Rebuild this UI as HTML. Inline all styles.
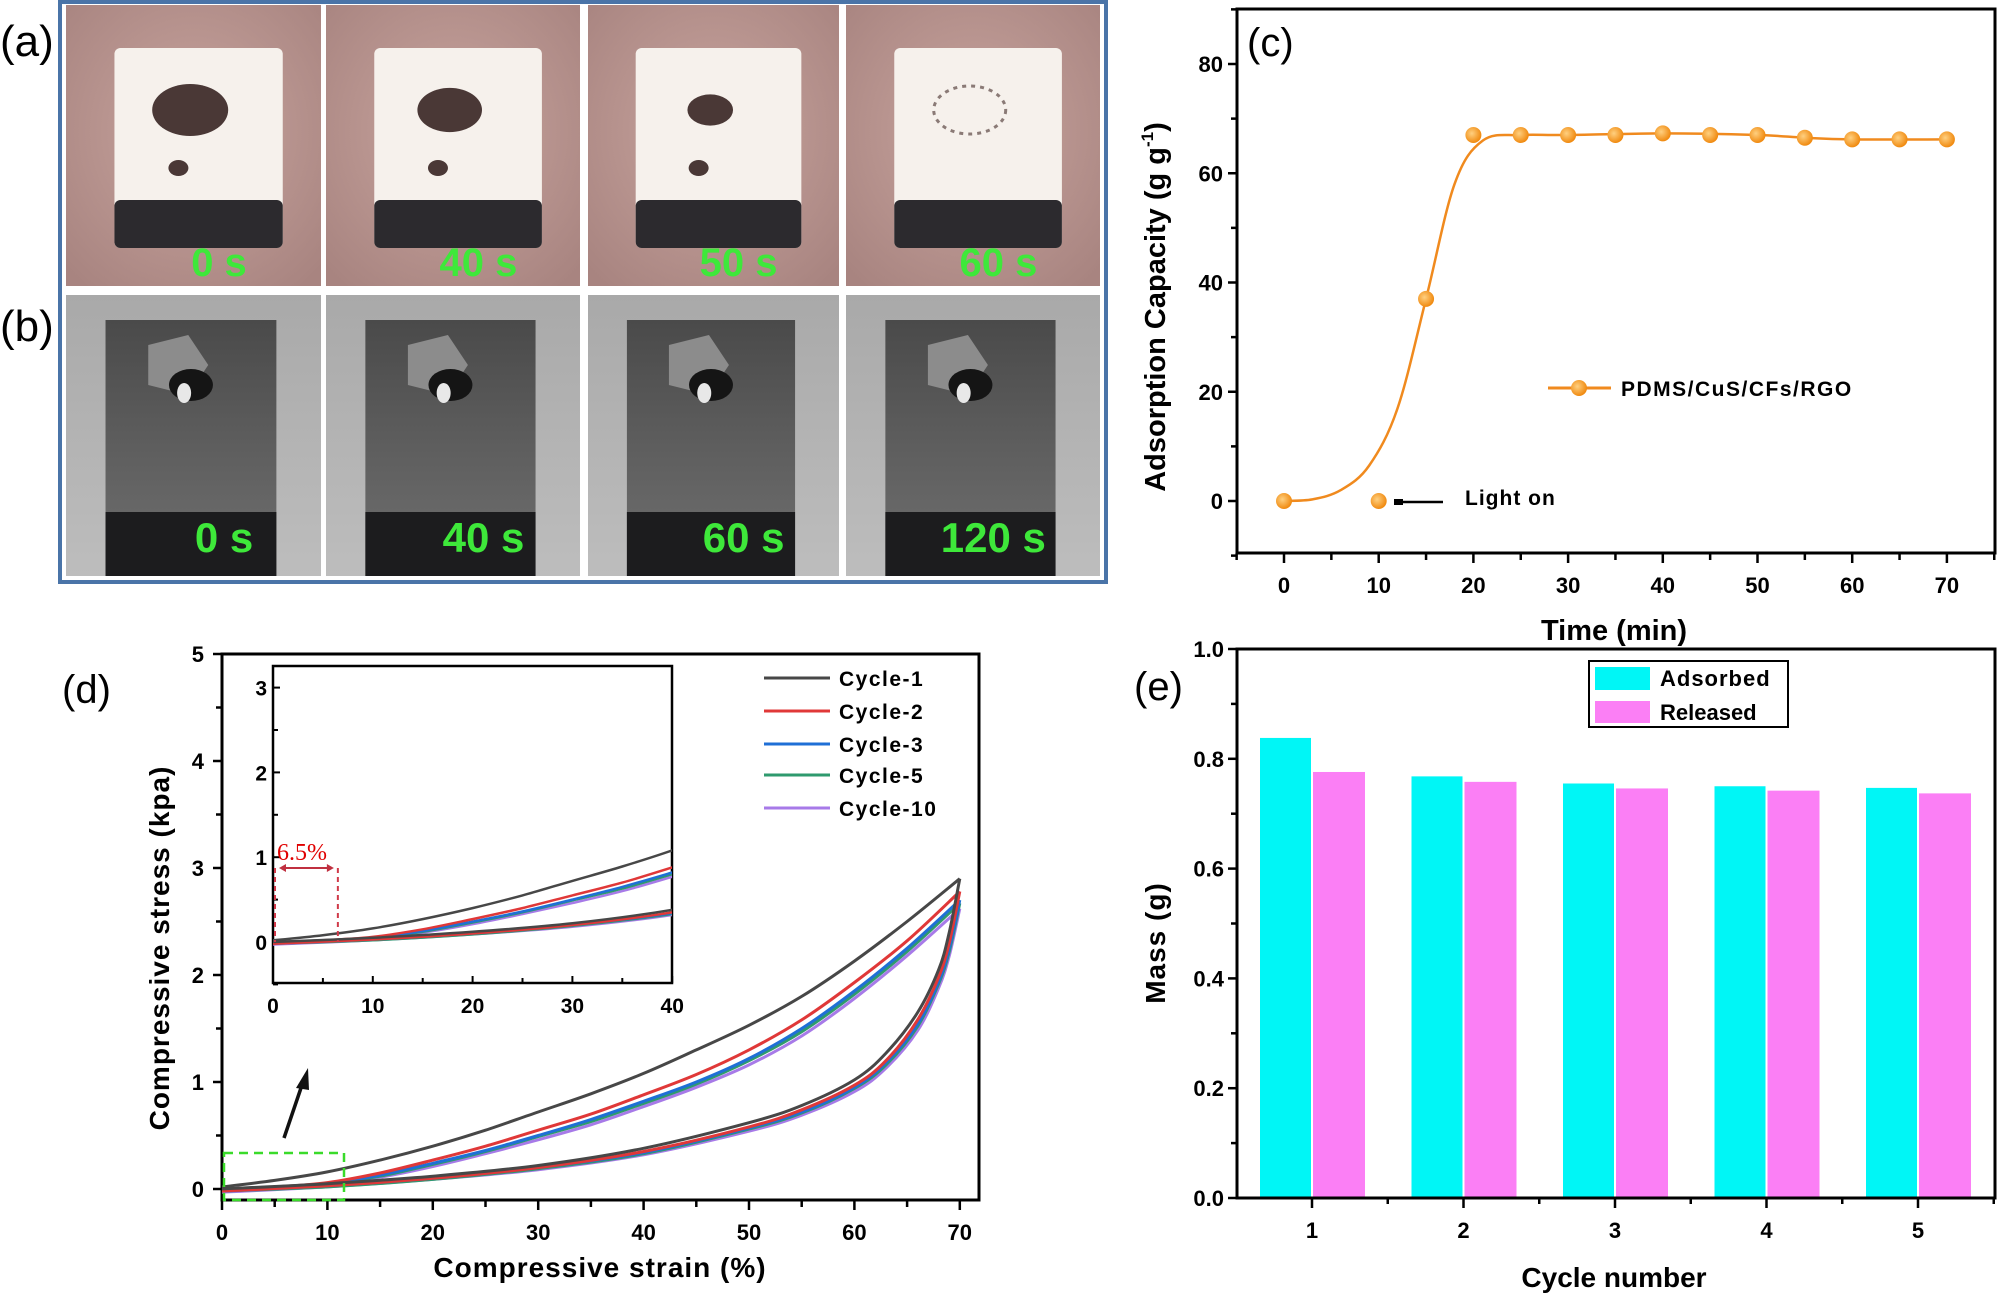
<!DOCTYPE html>
<html><head><meta charset="utf-8"><style>
html,body{margin:0;padding:0;background:#fff;}
svg{display:block;font-family:"Liberation Sans",Arial,sans-serif;font-weight:bold;}
</style></head><body>
<svg id="fig" width="2000" height="1296" viewBox="0 0 2000 1296" xmlns="http://www.w3.org/2000/svg">
<defs>
<radialGradient id="pinkbg" cx="50%" cy="45%" r="70%"><stop offset="0" stop-color="#c8a49e"/><stop offset="1" stop-color="#a88480"/></radialGradient>
<linearGradient id="graybg" x1="0" y1="0" x2="0" y2="1"><stop offset="0" stop-color="#a9a9a9"/><stop offset="1" stop-color="#bdbdbd"/></linearGradient>
<linearGradient id="grayblk" x1="0" y1="0" x2="0" y2="1"><stop offset="0" stop-color="#4a4a4a"/><stop offset="0.5" stop-color="#5e5e5e"/><stop offset="1" stop-color="#707070"/></linearGradient>
<radialGradient id="ballg" cx="40%" cy="40%" r="60%"><stop offset="0" stop-color="#ffd080"/><stop offset="1" stop-color="#f08a10"/></radialGradient>
<clipPath id="clipD"><rect x="222" y="654" width="757" height="546"/></clipPath>
<clipPath id="clipIn"><rect x="273" y="666" width="399" height="317"/></clipPath>
</defs>

<!-- Panels a/b photos -->
<g>
<rect x="60" y="2" width="1046" height="580" fill="#fff" stroke="#4a74a8" stroke-width="4"/>
<text x="0" y="56" font-size="44" font-weight="normal">(a)</text>
<text x="0" y="341" font-size="44" font-weight="normal">(b)</text>
<g id="photos"></g>
</g>

<!-- Panel c -->
<g id="panelC"></g>
<!-- Panel d -->
<g id="panelD"></g>
<!-- Panel e -->
<g id="panelE"></g>
</svg>
<script>
// ---------- Panel c data ----------
const cTimes = [0,10,15,20,25,30,35,40,45,50,55,60,65,70];
const cValues = [0,0,37,67,67,67,67,67.3,67,67,66.5,66.2,66.2,66.2];
const cXTicks = [0,10,20,30,40,50,60,70];
const cYTicks = [0,20,40,60,80];
const cCurveT = [0,3,6,9,12,15,18,21,25,30,40,50,55,60,70];
const cCurveV = [0,0.3,2,6.5,17,37,58,66,67,67,67.3,67,66.5,66.2,66.2];

// ---------- Panel d data ----------
const dLoadStrain = [0,5,10,15,20,25,30,35,40,45,50,55,60,65,70];
const dCycleNames = ['Cycle-1','Cycle-2','Cycle-3','Cycle-5','Cycle-10'];
const dLoad1 = [0.02,0.08,0.16,0.27,0.4,0.55,0.72,0.89,1.08,1.3,1.53,1.8,2.13,2.5,2.9];
const dLoad2 = [0,0.02,0.06,0.15,0.27,0.4,0.55,0.7,0.88,1.07,1.3,1.58,1.93,2.32,2.78];
const dLoad3 = [0,0.02,0.05,0.13,0.24,0.36,0.5,0.65,0.82,1.0,1.22,1.5,1.85,2.25,2.7];
const dLoad5 = [0,0.01,0.05,0.12,0.23,0.35,0.49,0.63,0.8,0.98,1.2,1.47,1.82,2.22,2.67];
const dLoad10 = [0,0.01,0.04,0.11,0.21,0.33,0.46,0.6,0.77,0.95,1.16,1.43,1.78,2.18,2.62];
const dUnloadStrain = [0,10,20,30,40,50,55,60,63,66,68,69,70];
const dUnload1 = [0,0.05,0.12,0.22,0.38,0.62,0.78,1.02,1.27,1.65,2.05,2.4,2.9];
const dUnload2 = [-0.02,0.03,0.1,0.2,0.35,0.58,0.74,0.97,1.2,1.58,1.98,2.3,2.78];
const dUnload3 = [-0.02,0.03,0.1,0.2,0.34,0.57,0.72,0.95,1.18,1.54,1.94,2.25,2.7];
const dUnload5 = [-0.02,0.02,0.09,0.19,0.33,0.56,0.71,0.94,1.16,1.52,1.92,2.22,2.67];
const dUnload10 = [-0.03,0.02,0.09,0.18,0.32,0.54,0.69,0.91,1.13,1.48,1.88,2.18,2.62];
const dXTicks = [0,10,20,30,40,50,60,70];
const dYTicks = [0,1,2,3,4,5];
const dInXTicks = [0,10,20,30,40];
const dInYTicks = [0,1,2,3];

// ---------- Panel e data ----------
const eCats = ['1','2','3','4','5'];
const eAdsorbed = [0.838,0.768,0.755,0.75,0.747];
const eReleased = [0.776,0.758,0.746,0.742,0.737];
const eYTicks = [0.0,0.2,0.4,0.6,0.8,1.0];

const NS='http://www.w3.org/2000/svg';
function mk(tag, attrs, parent){const e=document.createElementNS(NS,tag);for(const k in attrs)e.setAttribute(k,attrs[k]);parent.appendChild(e);return e;}
function catmull(pts){let d='M'+pts[0][0].toFixed(1)+','+pts[0][1].toFixed(1);for(let i=0;i<pts.length-1;i++){const p0=pts[i-1]||pts[i],p1=pts[i],p2=pts[i+1],p3=pts[i+2]||p2;const c1=[p1[0]+(p2[0]-p0[0])/6,p1[1]+(p2[1]-p0[1])/6],c2=[p2[0]-(p3[0]-p1[0])/6,p2[1]-(p3[1]-p1[1])/6];d+=' C'+c1[0].toFixed(1)+','+c1[1].toFixed(1)+' '+c2[0].toFixed(1)+','+c2[1].toFixed(1)+' '+p2[0].toFixed(1)+','+p2[1].toFixed(1);}return d;}

// ---------- Photos ----------
(function(){
  const g=document.getElementById('photos');
  const cols=[[66,321],[326,580],[588,839],[846,1100]];
  const aLabels=['0 s','40 s','50 s','60 s'];
  const bLabels=['0 s','40 s','60 s','120 s'];
  const stain=[1,0.85,0.6,0.25];
  cols.forEach((c,i)=>{
    const w=c[1]-c[0];
    const bg=mk('rect',{x:c[0],y:5,width:w,height:281,fill:'url(#pinkbg)'},g);
    
    
    const bx=c[0]+w*0.19, bw=w*0.66;
    mk('rect',{x:bx,y:48,width:bw,height:200,fill:'#f6f1ec',rx:6},g);
    mk('rect',{x:bx,y:200,width:bw,height:48,fill:'#2c2a2e',rx:6},g);
    if(stain[i]>0.3){mk('ellipse',{cx:bx+bw*0.45,cy:110,rx:38*stain[i],ry:26*stain[i],fill:'#4a3836'},g);
    mk('ellipse',{cx:bx+bw*0.38,cy:168,rx:10,ry:8,fill:'#4a3836'},g);}
    else{mk('ellipse',{cx:bx+bw*0.45,cy:110,rx:36,ry:24,fill:'none',stroke:'#8a7a76','stroke-width':3,'stroke-dasharray':'4 5'},g);}
    const t=mk('text',{x:c[0]+w*0.6,y:276,'font-size':40,fill:'#3ee83a','text-anchor':'middle'},g);
    t.textContent=aLabels[i];
    
    
    const bg2=mk('rect',{x:c[0],y:295,width:w,height:281,fill:'url(#graybg)'},g);
    
    
    const bx2=c[0]+w*0.155, bw2=w*0.67;
    mk('rect',{x:bx2,y:320,width:bw2,height:256,fill:'url(#grayblk)'},g);
    mk('rect',{x:bx2,y:512,width:bw2,height:64,fill:'#1c1c1e'},g);
    mk('path',{d:`M${bx2+bw2*0.25},${345} l40,-10 l20,30 l-20,30 l-40,-10 z`,fill:'#8c8c8c'},g);
    mk('ellipse',{cx:bx2+bw2*0.5,cy:385,rx:22,ry:16,fill:'#151515'},g);
    mk('ellipse',{cx:bx2+bw2*0.46,cy:393,rx:7,ry:10,fill:'#e8e8e8'},g);
    const t2=mk('text',{x:c[0]+w*(i==3?0.58:0.62),y:552,'font-size':42,fill:'#3ee83a','text-anchor':'middle'},g);
    t2.textContent=bLabels[i];
    
    
  });
})();

// ---------- Panel c ----------
(function(){
  const g=document.getElementById('panelC');
  const L=1237,R=1995,T=9,B=553;
  const x=v=>1284+(v)*9.47;
  const y=v=>501-v*5.4625;
  const fr=mk('rect',{x:L,y:T,width:R-L,height:B-T,fill:'none',stroke:'#000','stroke-width':3},g);
  
  
  for(let v=-10;v<=90;v+=10){mk('line',{x1:L,x2:L-(v%20===0?9:6),y1:y(v),y2:y(v),stroke:'#000','stroke-width':2.5},g);}
  cYTicks.forEach(v=>{const t=mk('text',{x:L-14,y:y(v)+8,'font-size':22,'text-anchor':'end'},g);t.textContent=v;
    
    });
  for(let v=-5;v<=75;v+=5){mk('line',{x1:x(v),x2:x(v),y1:B,y2:B+(v%10===0?10:7),stroke:'#000','stroke-width':2.5},g);}
  cXTicks.forEach(v=>{const t=mk('text',{x:x(v),y:593,'font-size':22,'text-anchor':'middle'},g);t.textContent=v;
    
    });
  const xt=mk('text',{x:1614,y:640,'font-size':29,'text-anchor':'middle'},g);xt.textContent='Time (min)';
  
  
  const yt=mk('text',{x:0,y:0,'font-size':29,'text-anchor':'middle',transform:'translate(1165,307) rotate(-90)'},g);
  yt.innerHTML='Adsorption Capacity (g g<tspan dy="-12" font-size="17">-1</tspan><tspan dy="12">)</tspan>';
  
  
  const lab=mk('text',{x:1247,y:56,'font-size':40,'font-weight':'normal'},g);lab.textContent='(c)';
  
  
  const curve=mk('path',{d:catmull(cCurveT.map((t,i)=>[x(t),y(cCurveV[i])])),fill:'none',stroke:'#f08a1e','stroke-width':2.5},g);
  
  
  cTimes.forEach((t,i)=>{const c=mk('circle',{cx:x(t),cy:y(cValues[i]),r:8,fill:'url(#ballg)'},g);
    
    });
  mk('line',{x1:1548,x2:1611,y1:388,y2:388,stroke:'#f08a1e','stroke-width':3},g);
  const lc=mk('circle',{cx:1579,cy:388,r:8,fill:'url(#ballg)'},g);
  
  
  const lt=mk('text',{x:1621,y:396,'font-size':21,'letter-spacing':'1.5'},g);lt.textContent='PDMS/CuS/CFs/RGO';
  
  
  mk('line',{x1:1400,x2:1443,y1:502,y2:502,stroke:'#000','stroke-width':2.5},g);
  const ar=mk('rect',{x:1394,y:499,width:9,height:6,fill:'#000'},g);
  
  
  const lo=mk('text',{x:1465,y:505,'font-size':21,'letter-spacing':'1'},g);lo.textContent='Light on';
  
  
})();

// ---------- Panel d ----------
(function(){
  const g=document.getElementById('panelD');
  const L=222,R=979,T=654,B=1200;
  const x=v=>222+v*10.54;
  const y=v=>1189-v*107;
  const colors=['#474747','#e03838','#1f6fd6','#2f9a6e','#a77ae8'];
  const loads=[dLoad1,dLoad2,dLoad3,dLoad5,dLoad10];
  const unloads=[dUnload1,dUnload2,dUnload3,dUnload5,dUnload10];
  const fr=mk('rect',{x:L,y:T,width:R-L,height:B-T,fill:'none',stroke:'#000','stroke-width':3},g);
  
  
  for(let v=0;v<=5;v+=0.5){mk('line',{x1:L,x2:L-(v%1===0?9:6),y1:y(v),y2:y(v),stroke:'#000','stroke-width':2.5},g);}
  dYTicks.forEach(v=>{const t=mk('text',{x:L-18,y:y(v)+8,'font-size':22,'text-anchor':'end'},g);t.textContent=v;
    
    });
  for(let v=0;v<=70;v+=5){mk('line',{x1:x(v),x2:x(v),y1:B,y2:B+(v%10===0?10:7),stroke:'#000','stroke-width':2.5},g);}
  dXTicks.forEach(v=>{const t=mk('text',{x:x(v),y:1240,'font-size':22,'text-anchor':'middle'},g);t.textContent=v;
    
    });
  const xt=mk('text',{x:600,y:1277,'font-size':28,'text-anchor':'middle','letter-spacing':'1'},g);xt.textContent='Compressive strain (%)';
  
  
  const yt=mk('text',{x:0,y:0,'font-size':28,'text-anchor':'middle','letter-spacing':'1',transform:'translate(169,948) rotate(-90)'},g);yt.textContent='Compressive stress (kpa)';
  
  
  const lab=mk('text',{x:62,y:703,'font-size':40,'font-weight':'normal'},g);lab.textContent='(d)';
  
  
  const curves=mk('g',{'clip-path':'url(#clipD)'},g);
  for(let k=4;k>=0;k--){
    const p1=mk('path',{d:catmull(dLoadStrain.map((s,i)=>[x(s),y(loads[k][i])])),fill:'none',stroke:colors[k],'stroke-width':3},curves);
    
    
    const p2=mk('path',{d:catmull(dUnloadStrain.map((s,i)=>[x(s),y(unloads[k][i])])),fill:'none',stroke:colors[k],'stroke-width':3},curves);
    
    
  }
  // green box + arrow
  const gb=mk('rect',{x:224,y:1153,width:120,height:47,fill:'none',stroke:'#3adb2a','stroke-width':2.5,'stroke-dasharray':'9 6'},g);
  
  
  mk('line',{x1:284,y1:1138,x2:302,y2:1085,stroke:'#111','stroke-width':3.5},g);
  const ah=mk('path',{d:'M308,1068 L296,1088 L309,1090 Z',fill:'#111'},g);
  
  
  // legend
  dCycleNames.forEach((n,i)=>{const yy=[678,711,744,775,808][i];
    const l=mk('line',{x1:764,x2:830,y1:yy,y2:yy,stroke:colors[i],'stroke-width':3},g);
    
    
    const t=mk('text',{x:839,y:yy+8,'font-size':21,'letter-spacing':'1.5'},g);t.textContent=n;
    
    });
  // inset
  const iL=273,iR=672,iT=666,iB=983;
  const ix=v=>273+v*9.98;
  const iy=v=>942-v*84.8;
  const ifr=mk('rect',{x:iL,y:iT,width:iR-iL,height:iB-iT,fill:'#fff',stroke:'#000','stroke-width':2.5},g);
  
  
  for(let v=-0.5;v<=3;v+=0.5){mk('line',{x1:iL,x2:iL+(v%1===0?7:5),y1:iy(v),y2:iy(v),stroke:'#000','stroke-width':2},g);}
  dInYTicks.forEach(v=>{const t=mk('text',{x:iL-6,y:iy(v)+8,'font-size':21,'text-anchor':'end'},g);t.textContent=v;
    
    });
  for(let v=0;v<=40;v+=5){mk('line',{x1:ix(v),x2:ix(v),y1:iB,y2:iB-(v%10===0?7:5),stroke:'#000','stroke-width':2},g);}
  dInXTicks.forEach(v=>{const t=mk('text',{x:ix(v),y:1013,'font-size':21,'text-anchor':'middle'},g);t.textContent=v;
    
    });
  const ic=mk('g',{'clip-path':'url(#clipIn)'},g);
  for(let k=4;k>=0;k--){
    const p1=mk('path',{d:catmull(dLoadStrain.map((s,i)=>[ix(s),iy(loads[k][i])])),fill:'none',stroke:colors[k],'stroke-width':2.5},ic);
    
    
    const p2=mk('path',{d:catmull(dUnloadStrain.map((s,i)=>[ix(s),iy(unloads[k][i])])),fill:'none',stroke:colors[k],'stroke-width':2.5},ic);
    
    
  }
  mk('line',{x1:ix(0.2),x2:ix(0.2),y1:868,y2:942,stroke:'#d03a4a','stroke-width':2,'stroke-dasharray':'5 4'},g);
  mk('line',{x1:ix(6.5),x2:ix(6.5),y1:868,y2:942,stroke:'#d03a4a','stroke-width':2,'stroke-dasharray':'5 4'},g);
  const dl=mk('line',{x1:ix(1),x2:ix(5.7),y1:868,y2:868,stroke:'#c03040','stroke-width':2},g);
  
  
  mk('path',{d:`M${ix(0.6)},868 l7,-4 l0,8 z M${ix(6.1)},868 l-7,-4 l0,8 z`,fill:'#c03040'},g);
  const pt=mk('text',{x:277,y:860,'font-size':24,'font-weight':'normal',fill:'#e00000','font-family':'"Liberation Serif",serif'},g);pt.textContent='6.5%';
  
  
})();

// ---------- Panel e ----------
(function(){
  const g=document.getElementById('panelE');
  const L=1237,R=1995,T=649,B=1198;
  const y=v=>1198-v*549;
  const xc=i=>1312+i*151.5;
  const fr=mk('rect',{x:L,y:T,width:R-L,height:B-T,fill:'none',stroke:'#000','stroke-width':3},g);
  
  
  eCats.forEach((c,i)=>{
    const a=mk('rect',{x:xc(i)-52,y:y(eAdsorbed[i]),width:51,height:B-y(eAdsorbed[i]),fill:'#00f6f6'},g);
    
    
    const r=mk('rect',{x:xc(i)+1,y:y(eReleased[i]),width:52,height:B-y(eReleased[i]),fill:'#fb7ff5'},g);
    
    
    mk('line',{x1:xc(i),x2:xc(i),y1:B,y2:B+10,stroke:'#000','stroke-width':2.5},g);
    mk('line',{x1:xc(i)+75.75,x2:xc(i)+75.75,y1:B,y2:B+6,stroke:'#000','stroke-width':2.5},g);
    const t=mk('text',{x:xc(i),y:1238,'font-size':22,'text-anchor':'middle'},g);t.textContent=c;
    
    
  });
  mk('line',{x1:L,x2:R,y1:B,y2:B,stroke:'#000','stroke-width':3},g);
  for(let v=0;v<=10;v++){mk('line',{x1:L,x2:L-(v%2===0?9:6),y1:y(v/10),y2:y(v/10),stroke:'#000','stroke-width':2.5},g);}
  eYTicks.forEach(v=>{const t=mk('text',{x:L-13,y:y(v)+8,'font-size':22,'text-anchor':'end'},g);t.textContent=v.toFixed(1);
    
    });
  const xt=mk('text',{x:1614,y:1287,'font-size':28,'text-anchor':'middle'},g);xt.textContent='Cycle number';
  
  
  const yt=mk('text',{x:0,y:0,'font-size':28,'text-anchor':'middle','letter-spacing':'1',transform:'translate(1165,943) rotate(-90)'},g);yt.textContent='Mass (g)';
  
  
  const lab=mk('text',{x:1134,y:700,'font-size':40,'font-weight':'normal'},g);lab.textContent='(e)';
  
  
  const lb=mk('rect',{x:1589,y:661,width:199,height:66,fill:'#fff',stroke:'#000','stroke-width':2},g);
  
  
  mk('rect',{x:1595,y:667,width:55,height:23,fill:'#00f6f6'},g);
  mk('rect',{x:1595,y:701,width:55,height:22,fill:'#fb7ff5'},g);
  const t1=mk('text',{x:1660,y:686,'font-size':22,'letter-spacing':'1'},g);t1.textContent='Adsorbed';
  
  
  const t2=mk('text',{x:1660,y:720,'font-size':22},g);t2.textContent='Released';
  
  
})();
</script>
</body></html>
